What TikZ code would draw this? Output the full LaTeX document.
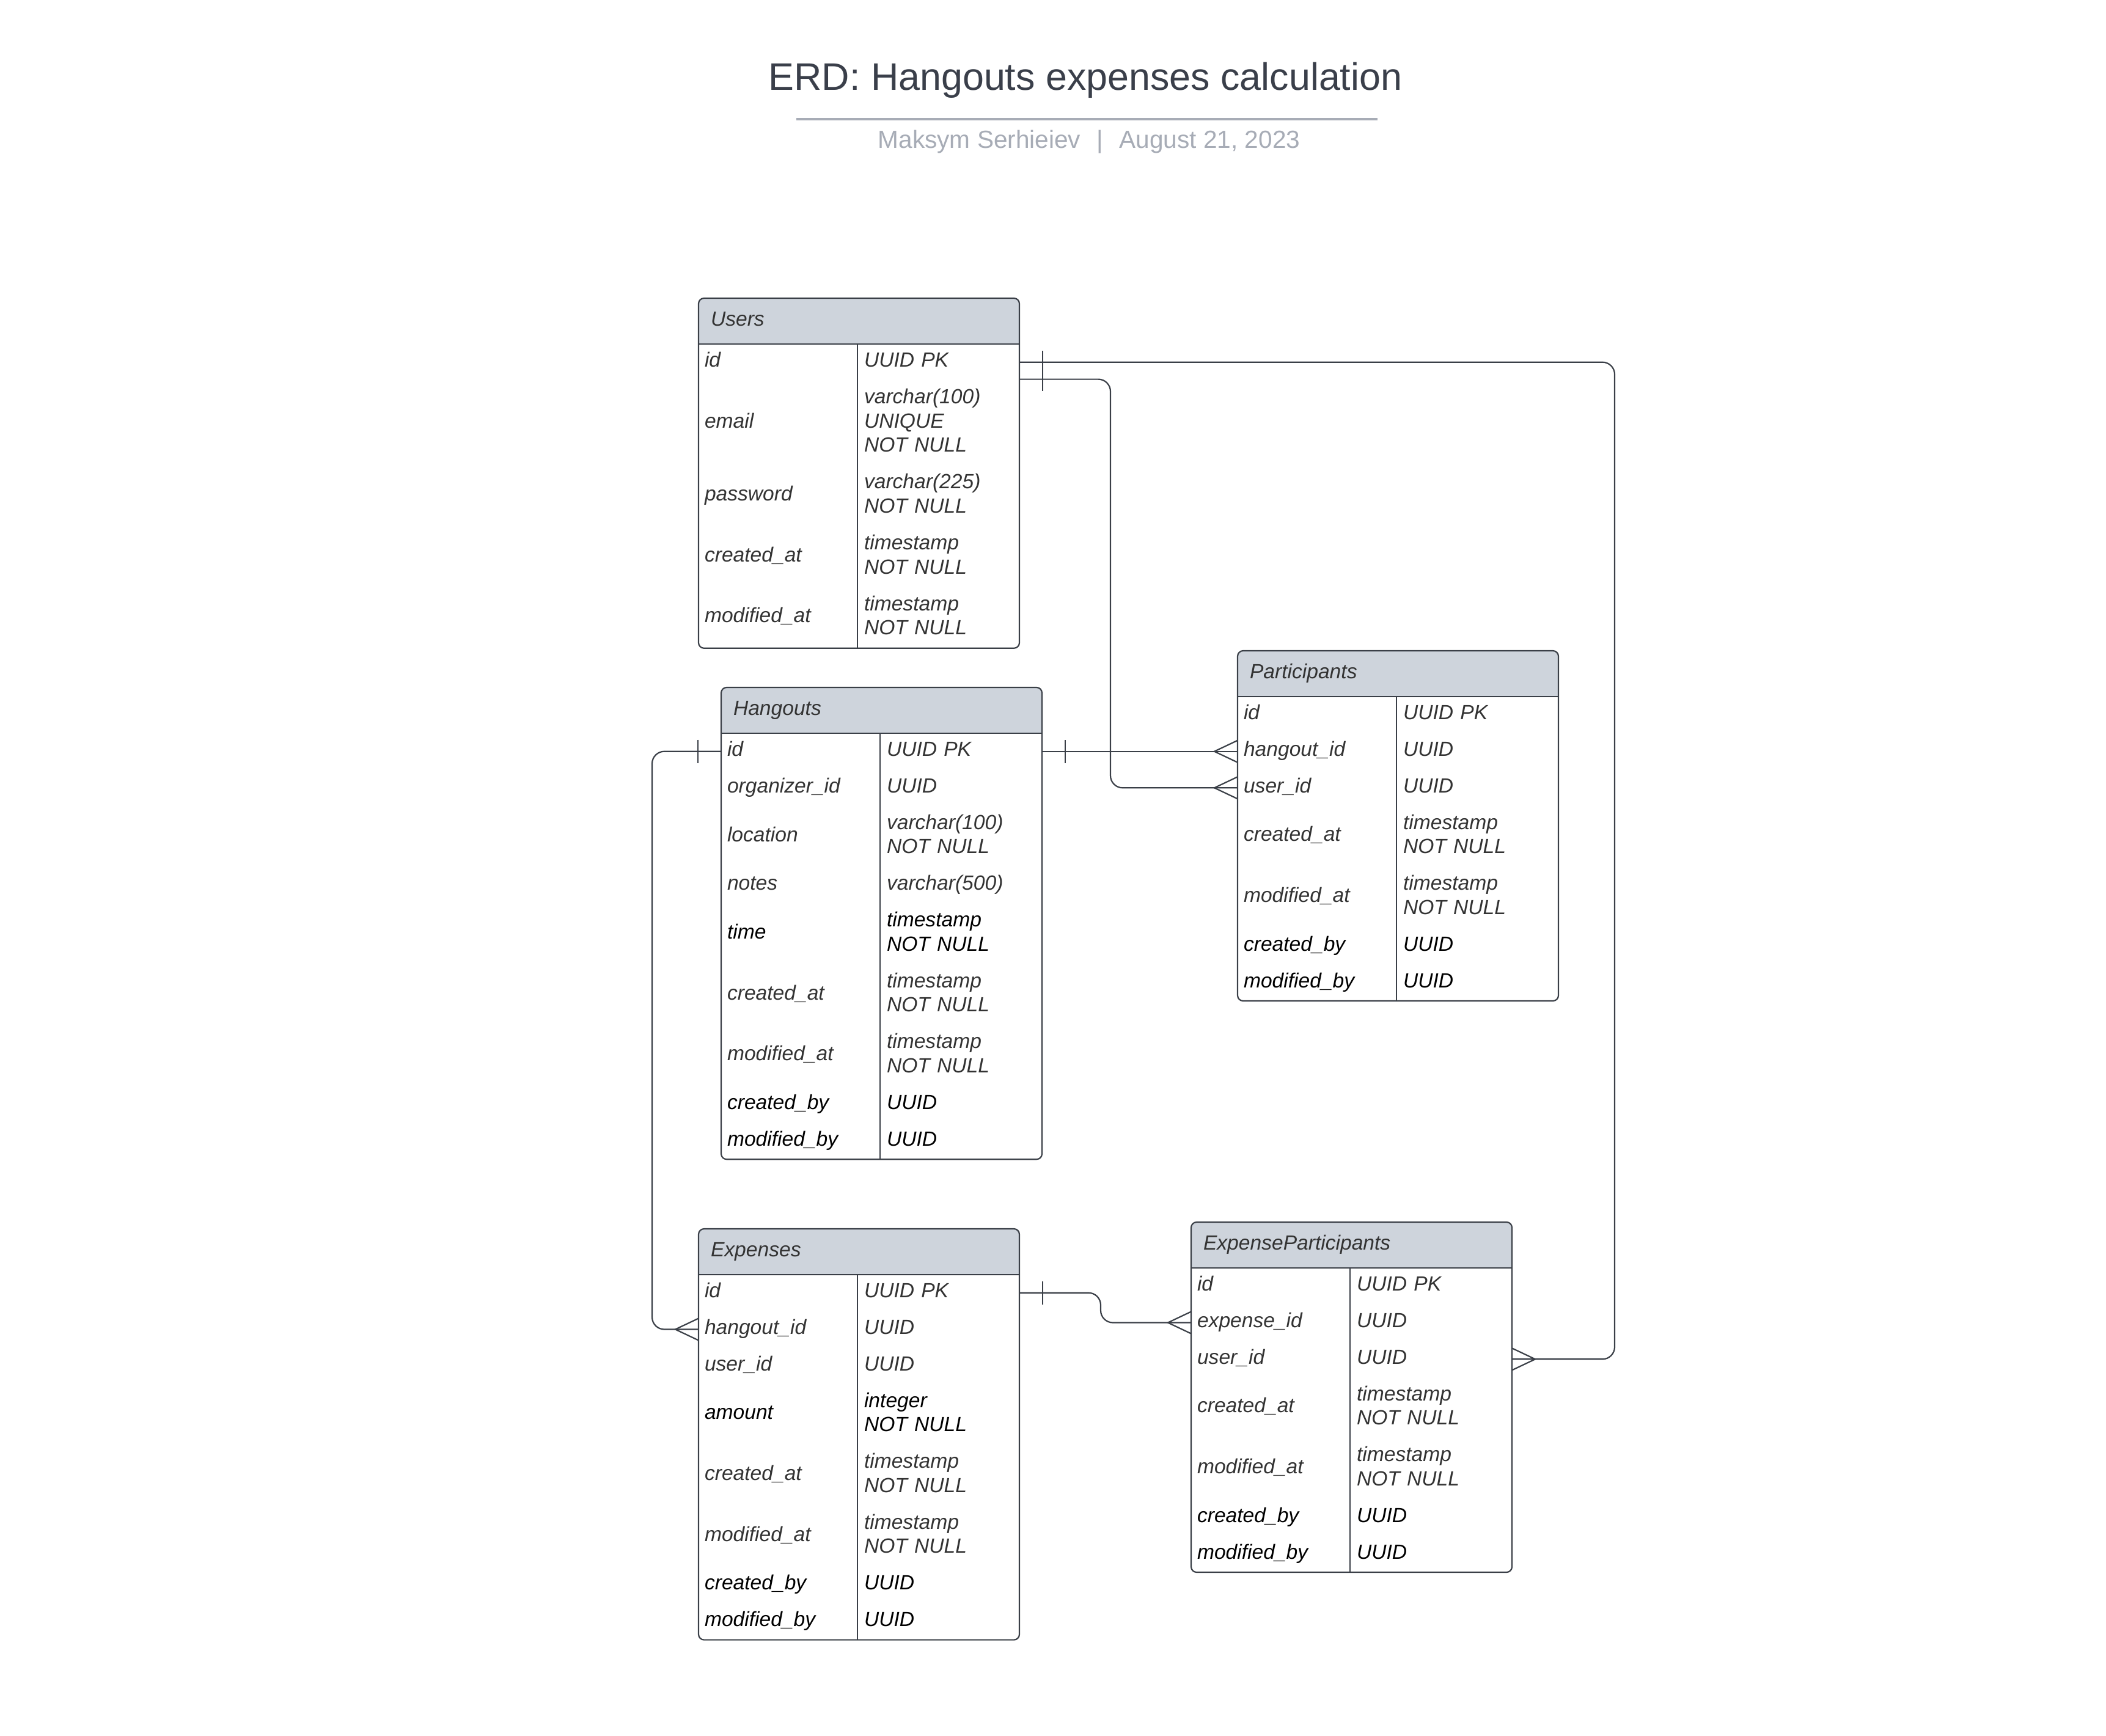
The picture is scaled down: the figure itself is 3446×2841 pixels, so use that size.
\documentclass[tikz,border=0pt]{standalone}
\usepackage{fontspec}
\setmainfont{Liberation Sans}
\usepackage{tikz}
\usetikzlibrary{positioning,backgrounds,decorations.markings}
\usepackage{xcolor}

\definecolor{hdrgray}{HTML}{CED4DC}
\definecolor{linecol}{HTML}{3A3F47}
\definecolor{txtgray}{HTML}{333333}
\definecolor{titlecol}{HTML}{3A3F4A}
\definecolor{subcol}{HTML}{A7ACB6}

% frame of one table: header node, last type cell, first field cell
\newcommand{\tblframe}[3]{%
  \begin{scope}[on background layer]
    \fill[hdrgray] ([yshift=6pt]#1.south west) rectangle (#1.south east);
  \end{scope}
  \draw[tbl] (#1.north west) rectangle (#2.south east);
  \draw[tbl,sharp corners] (#1.south west) -- (#1.south east);
  \draw[tbl,sharp corners] (#3.north east) -- (#3.north east |- #2.south);
}

\begin{document}
\begin{tikzpicture}[
x=0.5pt, y=0.5pt, node distance=0pt,
cell/.style={inner ysep=0pt, outer sep=0pt, align=left, text=txtgray,
  font=\fontsize{16.8}{19.8}\selectfont\itshape,
  execute at begin node=\strut, execute at end node=\strut},
hdr/.style={cell, anchor=north west, fill=hdrgray, rounded corners=4.5pt,
  inner xsep=10pt, text width=242.5pt, minimum height=37.4pt},
fld/.style={cell, inner xsep=5pt, text width=120pt},
typ/.style={cell, inner xsep=5.5pt, text width=121.5pt},
r1/.style={minimum height=29.9pt},
r2/.style={minimum height=49.8pt},
r3/.style={minimum height=69.7pt},
blk/.style={text=black},
tbl/.style={draw=linecol, line width=1.1pt, rounded corners=4.5pt},
rel/.style={draw=linecol, line width=1.1pt, rounded corners=10pt,
  postaction={decorate, decoration={markings,
    mark=at position 19pt with {\draw[linecol, line width=1.1pt, sharp corners] (0,-9.5pt) -- (0,9.5pt);},
    mark=at position 1 with {\draw[linecol, line width=1.1pt, sharp corners] (0,9pt) -- (-19pt,0) -- (0,-9pt);}}}}
]
\useasboundingbox (0,0) rectangle (3446,-2841);

% title
\node[anchor=base, text=titlecol, font=\fontsize{31.4}{36}\selectfont] (title) at (1776,-148) {ERD: Hangouts expenses calculation};
\draw[draw=subcol, line width=2pt] (1303,-195) -- (2254,-195);
\node[anchor=base, text=subcol, font=\fontsize{20.3}{24}\selectfont] (byline) at (1782,-243) {Maksym Serhieiev\hspace{0.65em}|\hspace{0.65em}August 21, 2023};

% Users
\node[hdr] (u) at (1143,-488) {Users};
\node[fld,r1,anchor=north west] (u1) at (u.south west) {id};
\node[typ,r1,right=of u1] (u1t) {UUID PK};
\node[fld,r3,below=of u1] (u2) {email};
\node[typ,r3,right=of u2] (u2t) {varchar(100)\\UNIQUE\\NOT NULL};
\node[fld,r2,below=of u2] (u3) {password};
\node[typ,r2,right=of u3] (u3t) {varchar(225)\\NOT NULL};
\node[fld,r2,below=of u3] (u4) {created\_at};
\node[typ,r2,right=of u4] (u4t) {timestamp\\NOT NULL};
\node[fld,r2,below=of u4] (u5) {modified\_at};
\node[typ,r2,right=of u5] (u5t) {timestamp\\NOT NULL};
\tblframe{u}{u5t}{u1}

% Hangouts
\node[hdr] (h) at (1180,-1125) {Hangouts};
\node[fld,r1,anchor=north west] (h1) at (h.south west) {id};
\node[typ,r1,right=of h1] (h1t) {UUID PK};
\node[fld,r1,below=of h1] (h2) {organizer\_id};
\node[typ,r1,right=of h2] (h2t) {UUID};
\node[fld,r2,below=of h2] (h3) {location};
\node[typ,r2,right=of h3] (h3t) {varchar(100)\\NOT NULL};
\node[fld,r1,below=of h3] (h4) {notes};
\node[typ,r1,right=of h4] (h4t) {varchar(500)};
\node[fld,r2,blk,below=of h4] (h5) {time};
\node[typ,r2,blk,right=of h5] (h5t) {timestamp\\NOT NULL};
\node[fld,r2,below=of h5] (h6) {created\_at};
\node[typ,r2,right=of h6] (h6t) {timestamp\\NOT NULL};
\node[fld,r2,below=of h6] (h7) {modified\_at};
\node[typ,r2,right=of h7] (h7t) {timestamp\\NOT NULL};
\node[fld,r1,blk,below=of h7] (h8) {created\_by};
\node[typ,r1,blk,right=of h8] (h8t) {UUID};
\node[fld,r1,blk,below=of h8] (h9) {modified\_by};
\node[typ,r1,blk,right=of h9] (h9t) {UUID};
\tblframe{h}{h9t}{h1}

% Participants
\node[hdr] (p) at (2025,-1065) {Participants};
\node[fld,r1,anchor=north west] (p1) at (p.south west) {id};
\node[typ,r1,right=of p1] (p1t) {UUID PK};
\node[fld,r1,below=of p1] (p2) {hangout\_id};
\node[typ,r1,right=of p2] (p2t) {UUID};
\node[fld,r1,below=of p2] (p3) {user\_id};
\node[typ,r1,right=of p3] (p3t) {UUID};
\node[fld,r2,below=of p3] (p4) {created\_at};
\node[typ,r2,right=of p4] (p4t) {timestamp\\NOT NULL};
\node[fld,r2,below=of p4] (p5) {modified\_at};
\node[typ,r2,right=of p5] (p5t) {timestamp\\NOT NULL};
\node[fld,r1,blk,below=of p5] (p6) {created\_by};
\node[typ,r1,blk,right=of p6] (p6t) {UUID};
\node[fld,r1,blk,below=of p6] (p7) {modified\_by};
\node[typ,r1,blk,right=of p7] (p7t) {UUID};
\tblframe{p}{p7t}{p1}

% Expenses
\node[hdr] (e) at (1143,-2011) {Expenses};
\node[fld,r1,anchor=north west] (e1) at (e.south west) {id};
\node[typ,r1,right=of e1] (e1t) {UUID PK};
\node[fld,r1,below=of e1] (e2) {hangout\_id};
\node[typ,r1,right=of e2] (e2t) {UUID};
\node[fld,r1,below=of e2] (e3) {user\_id};
\node[typ,r1,right=of e3] (e3t) {UUID};
\node[fld,r2,blk,below=of e3] (e4) {amount};
\node[typ,r2,blk,right=of e4] (e4t) {integer\\NOT NULL};
\node[fld,r2,below=of e4] (e5) {created\_at};
\node[typ,r2,right=of e5] (e5t) {timestamp\\NOT NULL};
\node[fld,r2,below=of e5] (e6) {modified\_at};
\node[typ,r2,right=of e6] (e6t) {timestamp\\NOT NULL};
\node[fld,r1,blk,below=of e6] (e7) {created\_by};
\node[typ,r1,blk,right=of e7] (e7t) {UUID};
\node[fld,r1,blk,below=of e7] (e8) {modified\_by};
\node[typ,r1,blk,right=of e8] (e8t) {UUID};
\tblframe{e}{e8t}{e1}

% ExpenseParticipants
\node[hdr] (x) at (1949,-2000) {ExpenseParticipants};
\node[fld,r1,anchor=north west] (x1) at (x.south west) {id};
\node[typ,r1,right=of x1] (x1t) {UUID PK};
\node[fld,r1,below=of x1] (x2) {expense\_id};
\node[typ,r1,right=of x2] (x2t) {UUID};
\node[fld,r1,below=of x2] (x3) {user\_id};
\node[typ,r1,right=of x3] (x3t) {UUID};
\node[fld,r2,below=of x3] (x4) {created\_at};
\node[typ,r2,right=of x4] (x4t) {timestamp\\NOT NULL};
\node[fld,r2,below=of x4] (x5) {modified\_at};
\node[typ,r2,right=of x5] (x5t) {timestamp\\NOT NULL};
\node[fld,r1,blk,below=of x5] (x6) {created\_by};
\node[typ,r1,blk,right=of x6] (x6t) {UUID};
\node[fld,r1,blk,below=of x6] (x7) {modified\_by};
\node[typ,r1,blk,right=of x7] (x7t) {UUID};
\tblframe{x}{x7t}{x1}

% relations, one side first
\draw[rel] (u1t.east) -- ++(487pt,0) |- (x3t.east);
\draw[rel] ([yshift=1pt]u1t.south east) -- ++(74.5pt,0) |- (p3.west);
\draw[rel] (h1t.east) -- (h1t.east -| p2.west);
\draw[rel] (h1.west) -- ++(-56.5pt,0) |- (e2.west);
\draw[rel] (e1t.east) -- ++(66.5pt,0) |- (x2.west);

\end{tikzpicture}
\end{document}
